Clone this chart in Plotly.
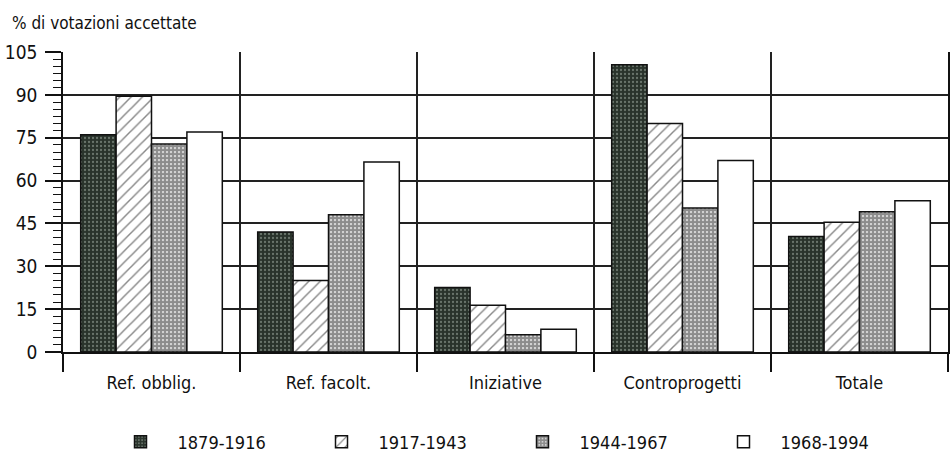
import plotly.graph_objects as go

categories = ["Ref. obblig.", "Ref. facolt.", "Iniziative", "Controprogetti", "Totale"]
series_names = ["1879-1916", "1917-1943", "1944-1967", "1968-1994"]
s1879 = [76, 42, 22.6, 100.5, 40.4]
s1917 = [89.5, 25, 16.4, 80, 45.4]
s1944 = [72.8, 48, 6, 50.4, 49.1]
s1968 = [77, 66.5, 8, 67, 52.9]
y_ticks = [0, 15, 30, 45, 60, 75, 90, 105]

FONT = "DejaVu Sans Condensed, Liberation Sans Narrow, Arial Narrow, sans-serif"

styles = [
    dict(color="#29332b", pattern=dict(shape=".", fgcolor="#aab5ab", size=4, solidity=0.25)),
    dict(color="white", pattern=dict(shape="/", fgcolor="#111", size=8, solidity=0.18)),
    dict(color="white", pattern=dict(shape=".", fgcolor="#1a1a1a", size=4, solidity=0.8)),
    dict(color="white"),
]

fig = go.Figure()
for name, vals, st in zip(series_names, [s1879, s1917, s1944, s1968], styles):
    fig.add_trace(go.Bar(
        x=categories, y=vals, name=name,
        marker=dict(**st, line=dict(color="#111", width=1.5)),
    ))

fig.update_layout(
    width=952, height=462,
    margin=dict(l=63, r=4, t=52, b=110, autoexpand=False),
    paper_bgcolor="white", plot_bgcolor="white",
    barmode="group", bargap=0.2, bargroupgap=0,
    font=dict(family=FONT, size=17, color="#111"),
    title=dict(text="% di votazioni accettate", x=12 / 952, xanchor="left",
               xref="container", yref="container", y=1 - 23 / 462, yanchor="middle",
               pad=dict(l=0, t=0, b=0, r=0), automargin=False,
               font=dict(family=FONT, size=17, color="#111")),
    showlegend=True,
    legend=dict(orientation="h", x=0.5, xanchor="center", y=-0.3, yanchor="middle",
                entrywidth=122, itemwidth=64, font=dict(family=FONT, size=18),
                traceorder="normal"),
)

fig.update_xaxes(
    type="category", tickson="boundaries", ticks="outside", ticklen=18,
    tickwidth=1.5, tickcolor="#111", showgrid=True, gridcolor="#222", gridwidth=1.5,
    showline=True, linecolor="#111", linewidth=1.5, ticklabelstandoff=14,
    automargin=False, tickfont=dict(family=FONT, size=18),
)
fig.update_yaxes(
    range=[0, 105], tickvals=y_ticks, ticks="outside", ticklen=16, tickwidth=1.5,
    tickcolor="#111", showgrid=True, gridcolor="#222", gridwidth=1.5,
    showline=True, linecolor="#111", linewidth=1.5, zeroline=False, mirror=True,
    ticklabelstandoff=4, automargin=False,
    tickfont=dict(family=FONT, size=19),
    minor=dict(dtick=2.5, tick0=0, ticks="outside", ticklen=8, tickwidth=1.2,
               tickcolor="#111", showgrid=False),
)

fig.write_html(
    "out.html",
    config={"displayModeBar": False},
    post_script="document.body.style.margin='0';document.body.style.overflow='hidden';",
)
